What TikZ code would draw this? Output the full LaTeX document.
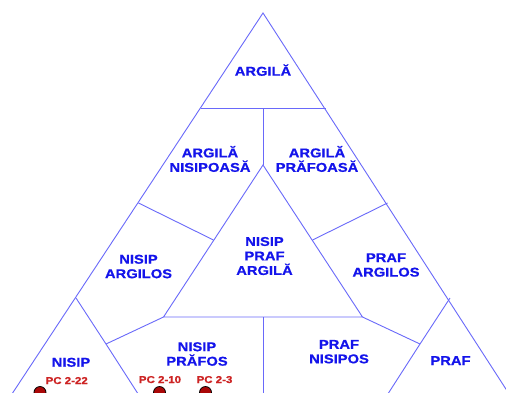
\documentclass[tikz,border=0pt]{standalone}
\usepackage{fontspec}
\setmainfont{Liberation Sans}[FakeStretch=1.15,BoldFeatures={FakeBold=0.6}]
\definecolor{lineblue}{RGB}{105,105,250}
\definecolor{textblue}{RGB}{20,20,235}
\definecolor{pcred}{RGB}{205,35,35}
\definecolor{dotred}{RGB}{170,8,8}
\begin{document}
\begin{tikzpicture}[x=1bp,y=-1bp,
  edge/.style={draw=lineblue,line width=0.9bp},
  region/.style={text=textblue,font=\fontsize{12.8bp}{14.5bp}\selectfont\bfseries,align=center,inner sep=0pt},
  pclabel/.style={text=pcred,font=\fontsize{10bp}{12bp}\selectfont\bfseries,inner sep=0pt,anchor=base},
  sample/.style={circle,fill=dotred,draw=black,line width=0.8bp,minimum size=12bp,inner sep=0pt}]
\useasboundingbox (0,0) rectangle (506,392);
\clip (0,0) rectangle (506,392);
\fill[white] (0,0) rectangle (506,392);
% geometry
\coordinate (A) at (263,13);
\coordinate (BL) at (8,400);
\coordinate (BR) at (513,400);
\coordinate (L1) at (200.5,108);
\coordinate (R1) at (325.5,108);
\coordinate (M1) at (263,108);
\coordinate (I) at (263,165);
\coordinate (P1) at (138.5,203);
\coordinate (P2) at (213.5,240);
\coordinate (P3) at (387.5,203);
\coordinate (P4) at (312.5,240);
\coordinate (Q1) at (163.5,317);
\coordinate (Q2) at (362.5,317);
\coordinate (Q3) at (263,317);
\coordinate (Q4) at (263,400);
\coordinate (S1) at (76,298);
\coordinate (S2) at (106,344);
\coordinate (S3) at (142,400);
\coordinate (S4) at (450,298);
\coordinate (S5) at (420,344);
\coordinate (S6) at (384,400);
% lines
\draw[edge] (BL) -- (A) -- (BR);
\draw[edge] (L1) -- (R1);
\draw[edge] (M1) -- (I);
\draw[edge] (Q1) -- (I) -- (Q2) -- cycle;
\draw[edge] (Q3) -- (Q4);
\draw[edge] (P1) -- (P2);
\draw[edge] (P3) -- (P4);
\draw[edge] (Q1) -- (S2);
\draw[edge] (S1) -- (S2) -- (S3);
\draw[edge] (Q2) -- (S5);
\draw[edge] (S4) -- (S5) -- (S6);
% labels
\node[region,anchor=base] (argila) at (263,75.7) {ARGILĂ};
\node[region] (argnis) at (210,159) {ARGILĂ\\NISIPOASĂ};
\node[region] (argpraf) at (317,159) {ARGILĂ\\PRĂFOASĂ};
\node[region] (nisarg) at (138.5,266.5) {NISIP\\ARGILOS};
\node[region] (prafarg) at (386,265) {PRAF\\ARGILOS};
\node[region] (npa) at (264.5,256) {NISIP\\PRAF\\ARGILĂ};
\node[region,anchor=base] (nisip) at (71,366.7) {NISIP};
\node[region] (nispraf) at (197,354) {NISIP\\PRĂFOS};
\node[region] (prafnis) at (339,351.7) {PRAF\\NISIPOS};
\node[region,anchor=base] (praf) at (450.5,365) {PRAF};
% samples
\node[pclabel] (pc22) at (66.7,384) {PC 2-22};
\node[pclabel] (pc10) at (160,383) {PC 2-10};
\node[pclabel] (pc3) at (214.5,383) {PC 2-3};
\node[sample] (d22) at (40,392.5) {};
\node[sample] (d10) at (159.5,392.5) {};
\node[sample] (d3) at (205.5,392.5) {};
\end{tikzpicture}
\end{document}
